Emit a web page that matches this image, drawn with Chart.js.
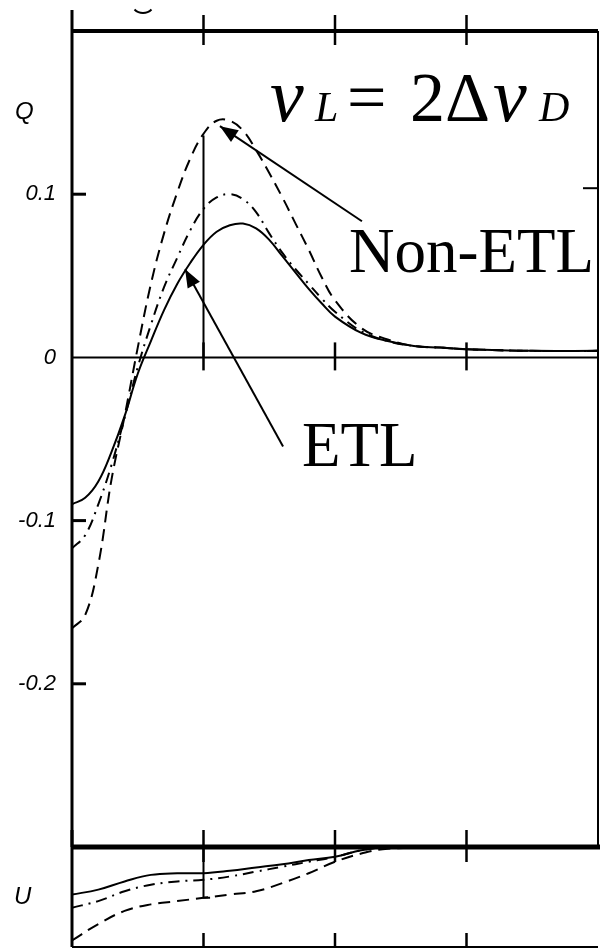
<!DOCTYPE html>
<html>
<head>
<meta charset="utf-8">
<script src="https://cdn.jsdelivr.net/npm/chart.js@4.4.1/dist/chart.umd.min.js"></script>
<style>
body{margin:0;background:#fff;width:604px;height:949px;overflow:hidden;position:relative}
canvas{position:absolute;left:0}
#q{top:0}
#u{top:830px}
</style>
</head>
<body>
<canvas id="q" width="604" height="860"></canvas>
<canvas id="u" width="604" height="119"></canvas>
<script>
// Q panel data (x in Doppler widths)
const xQ = [0, 0.1, 0.2, 0.3, 0.4, 0.5, 0.6, 0.7, 0.8, 0.9, 1.0, 1.1, 1.2, 1.3, 1.4, 1.5, 1.6, 1.7, 1.8, 1.9, 2.0, 2.2, 2.4, 2.6, 2.8, 3.0, 3.5, 4.0];
const qETL    = [-0.090, -0.086, -0.076, -0.058, -0.036, -0.010, 0.010, 0.029, 0.045, 0.058, 0.069, 0.077, 0.081, 0.082, 0.079, 0.072, 0.062, 0.052, 0.042, 0.033, 0.025, 0.015, 0.010, 0.007, 0.006, 0.005, 0.004, 0.004];
const qMid    = [-0.117, -0.109, -0.090, -0.066, -0.037, -0.006, 0.020, 0.043, 0.061, 0.078, 0.091, 0.098, 0.100, 0.097, 0.089, 0.076, 0.064, 0.054, 0.045, 0.036, 0.028, 0.016, 0.010, 0.007, 0.006, 0.005, 0.004, 0.004];
const qNonETL = [-0.166, -0.158, -0.127, -0.075, -0.036, 0.006, 0.045, 0.076, 0.101, 0.122, 0.137, 0.145, 0.145, 0.139, 0.127, 0.113, 0.098, 0.082, 0.066, 0.049, 0.035, 0.018, 0.011, 0.007, 0.006, 0.005, 0.004, 0.004];

// U panel data
const xU = [0, 0.2, 0.4, 0.6, 0.8, 1.0, 1.2, 1.4, 1.6, 1.8, 2.0, 2.2, 2.4, 3.0, 4.0];
const uETL    = [-0.029, -0.026, -0.021, -0.017, -0.016, -0.016, -0.0145, -0.0125, -0.0105, -0.008, -0.006, -0.002, 0, 0, 0];
const uMid    = [-0.037, -0.033, -0.027, -0.023, -0.021, -0.020, -0.018, -0.015, -0.012, -0.009, -0.006, -0.002, 0, 0, 0];
const uNonETL = [-0.057, -0.047, -0.039, -0.035, -0.033, -0.031, -0.029, -0.027, -0.022, -0.016, -0.009, -0.004, -0.001, 0, 0];

// marker lines at x = 1
const markQx = [1, 1];
const markQy = [0.136, 0];
const markUx = [1, 1, 1.05];
const markUy = [0, -0.031, -0.031];

const xTicks = [1, 2, 3];
const yTicksQ = [0.1, 0, -0.1, -0.2];

const pts = (xs, ys) => xs.map((x, i) => ({x: x, y: ys[i]}));

function curve(xs, ys, dash){
    return {
        data: pts(xs, ys),
        borderColor: '#000',
        borderWidth: 2,
        borderDash: dash,
        pointRadius: 0,
        tension: 0.4,
        fill: false
    };
}

function line(ctx, x1, y1, x2, y2, w){
    ctx.lineWidth = w;
    ctx.beginPath();
    ctx.moveTo(x1, y1);
    ctx.lineTo(x2, y2);
    ctx.stroke();
}

function arrow(ctx, x1, y1, x2, y2){
    line(ctx, x1, y1, x2, y2, 2);
    const ang = Math.atan2(y2 - y1, x2 - x1);
    const len = 18, half = 7;
    ctx.beginPath();
    ctx.moveTo(x2, y2);
    ctx.lineTo(x2 - len*Math.cos(ang) + half*Math.sin(ang), y2 - len*Math.sin(ang) - half*Math.cos(ang));
    ctx.lineTo(x2 - len*Math.cos(ang) - half*Math.sin(ang), y2 - len*Math.sin(ang) + half*Math.cos(ang));
    ctx.closePath();
    ctx.fill();
}

// Q panel frame, ticks and notes
const frameQ = {
    id: 'frameQ',
    afterDatasetsDraw(chart){
        const {ctx, chartArea: a, scales: {x, y}} = chart;
        ctx.save();
        ctx.strokeStyle = '#000';
        ctx.fillStyle = '#000';

        line(ctx, a.left, 10, a.left, a.bottom, 3);
        line(ctx, a.left, a.top, a.right, a.top, 4);
        line(ctx, a.right, a.top, a.right, a.bottom, 2);
        const y0 = y.getPixelForValue(0);
        line(ctx, a.left, y0, a.right, y0, 2);

        xTicks.forEach(v => {
            const px = x.getPixelForValue(v);
            line(ctx, px, a.top - 16, px, a.top + 14, 2.5);
            line(ctx, px, y0 - 15, px, y0 + 13, 2.5);
        });
        yTicksQ.filter(v => v !== 0).forEach(v => {
            const py = y.getPixelForValue(v);
            line(ctx, a.left, py, a.left + 14, py, 3);
        });
        const p01 = y.getPixelForValue(0.1);
        line(ctx, a.right - 15, p01 - 6, a.right, p01 - 6, 2);

        // bit of a label cut off at the top
        ctx.lineWidth = 2;
        ctx.beginPath();
        ctx.arc(143, 1, 12, 0.25*Math.PI, 0.75*Math.PI);
        ctx.stroke();

        ctx.font = 'italic 24px "Liberation Sans"';
        ctx.textAlign = 'left';
        ctx.textBaseline = 'middle';
        ctx.fillText('Q', 15, y.getPixelForValue(0.15));

        // formula
        ctx.textBaseline = 'alphabetic';
        const base = 121;
        ctx.font = 'italic 76px "Liberation Serif"';
        ctx.fillText('\u03BD', 270, base);
        ctx.font = 'italic 42px "Liberation Serif"';
        ctx.fillText('L', 315, base);
        ctx.font = '70px "Liberation Serif"';
        ctx.fillText('=', 347, base);
        ctx.fillText('2\u0394', 410, base);
        ctx.font = 'italic 76px "Liberation Serif"';
        ctx.fillText('\u03BD', 493, base);
        ctx.font = 'italic 42px "Liberation Serif"';
        ctx.fillText('D', 539, base);

        ctx.font = '63px "Liberation Serif"';
        ctx.fillText('Non-ETL', 349, 272);
        ctx.fillText('ETL', 302, 466);

        arrow(ctx, x.getPixelForValue(2.205), y.getPixelForValue(0.0834), x.getPixelForValue(1.125), y.getPixelForValue(0.1417));
        arrow(ctx, x.getPixelForValue(1.605), y.getPixelForValue(-0.0546), x.getPixelForValue(0.86), y.getPixelForValue(0.054));
        ctx.restore();
    }
};

// U panel frame and ticks
const frameU = {
    id: 'frameU',
    afterDatasetsDraw(chart){
        const {ctx, chartArea: a, scales: {x, y}} = chart;
        ctx.save();
        ctx.strokeStyle = '#000';
        ctx.fillStyle = '#000';
        line(ctx, a.left, 0, a.left, a.bottom, 3);
        line(ctx, a.left, a.top, a.right + 2, a.top, 5);
        line(ctx, a.left, a.bottom, a.right, a.bottom, 2);
        xTicks.forEach(v => {
            const px = x.getPixelForValue(v);
            line(ctx, px, a.top - 17, px, a.top + 15, 2.5);
            line(ctx, px, a.bottom - 14, px, a.bottom, 2.5);
        });
        ctx.font = 'italic 24px "Liberation Sans"';
        ctx.textAlign = 'left';
        ctx.textBaseline = 'middle';
        ctx.fillText('U', 14, y.getPixelForValue(-0.0305));
        ctx.restore();
    }
};

new Chart(document.getElementById('q'), {
    type: 'line',
    data: {
        datasets: [
            curve(xQ, qETL, []),
            curve(xQ, qMid, [11, 6, 2, 6]),
            curve(xQ, qNonETL, [12, 7]),
            {data: pts(markQx, markQy), borderColor: '#000', borderWidth: 2, pointRadius: 0}
        ]
    },
    options: {
        responsive: false,
        animation: false,
        devicePixelRatio: 1,
        layout: {padding: {left: 0, right: 6, top: 31, bottom: 13}},
        plugins: {legend: {display: false}, tooltip: {enabled: false}},
        scales: {
            x: {type: 'linear', min: 0, max: 4, display: false},
            y: {
                min: -0.3, max: 0.2,
                afterBuildTicks: s => { s.ticks = yTicksQ.map(v => ({value: v})); },
                afterFit: s => { s.width = 72; s.paddingTop = 0; s.paddingBottom = 0; },
                grid: {display: false, drawTicks: false},
                border: {display: false},
                ticks: {
                    padding: 16,
                    color: '#000',
                    font: {family: 'Liberation Sans', style: 'italic', size: 22},
                    callback: v => String(v)
                }
            }
        }
    },
    plugins: [frameQ]
});

new Chart(document.getElementById('u'), {
    type: 'line',
    data: {
        datasets: [
            curve(xU, uETL, []),
            curve(xU, uMid, [11, 6, 2, 6]),
            curve(xU, uNonETL, [12, 7]),
            {data: pts(markUx, markUy), borderColor: '#000', borderWidth: 2, pointRadius: 0}
        ]
    },
    options: {
        responsive: false,
        animation: false,
        devicePixelRatio: 1,
        layout: {padding: {left: 0, right: 6, top: 17, bottom: 2}},
        plugins: {legend: {display: false}, tooltip: {enabled: false}},
        scales: {
            x: {type: 'linear', min: 0, max: 4, display: false},
            y: {
                min: -0.061, max: 0,
                afterFit: s => { s.width = 72; s.paddingTop = 0; s.paddingBottom = 0; },
                grid: {display: false},
                border: {display: false},
                ticks: {display: false}
            }
        }
    },
    plugins: [frameU]
});
</script>
</body>
</html>
